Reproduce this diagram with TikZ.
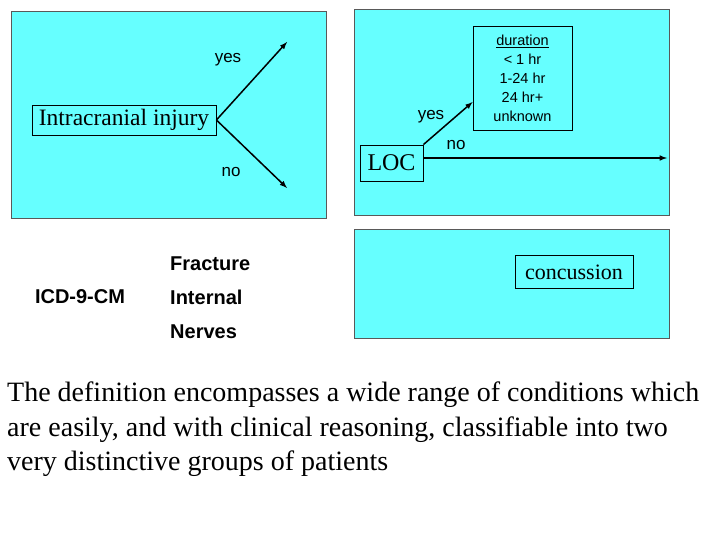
\documentclass[tikz,border=0pt]{standalone}
\usepackage{fontspec}
\setmainfont{Liberation Serif}
\newfontfamily\sff{Liberation Sans}
\begin{document}
\begin{tikzpicture}[x=1pt,y=-1pt,
 panel/.style={draw=gray!70!black,line width=0.8pt},
 lbl/.style={draw=black,line width=0.8pt,inner sep=0pt},
 arr/.style={line width=1.5pt,-latex}]
\definecolor{cy}{RGB}{102,255,255}
\useasboundingbox (0,0) rectangle (720,540);
\fill[white] (0,0) rectangle (720,540);
\path[panel,fill=cy] (11,11) rectangle (326,218);
\path[panel,fill=cy] (354,9) rectangle (669,215);
\path[panel,fill=cy] (354,229) rectangle (669,338);
\node[lbl,minimum width=184,minimum height=30,font=\fontsize{23.5}{23.5}\selectfont] (ii) at (124,120) {Intracranial injury};
\coordinate (iy) at (287,42);
\coordinate (in) at (287,188);
\draw[arr] (ii.east) -- (iy);
\draw[arr] (ii.east) -- (in);
\node[font=\sff\fontsize{17}{17}\selectfont] (yes1) at (228,60) {yes};
\node[font=\sff\fontsize{17}{17}\selectfont] (no1) at (231,172) {no};
\node[lbl,minimum width=63,minimum height=36,font=\fontsize{24}{24}\selectfont] (loc) at (391.5,163) {LOC};
\node[lbl,minimum width=99,minimum height=104,align=center,font=\sff\fontsize{14.5}{19}\selectfont] (dur) at (522.5,78) {\underline{duration}\\{<} 1 hr\\1-24 hr\\24 hr+\\unknown};
\coordinate (locend) at (667,158);
\draw[arr] (loc.north east) -- (dur.west |- 0,102);
\draw[arr] (loc.east |- 0,158) -- (locend);
\node[font=\sff\fontsize{17}{17}\selectfont] (yes2) at (431,117) {yes};
\node[font=\sff\fontsize{17}{17}\selectfont] (no2) at (456,145) {no};
\node[lbl,minimum width=118,minimum height=33,font=\fontsize{22}{22}\selectfont] (conc) at (574,272) {concussion};
\node[font=\sff\bfseries\fontsize{20}{20}\selectfont] (icd) at (80,297) {ICD-9-CM};
\node[anchor=north west,align=left,inner sep=0pt,font=\sff\bfseries\fontsize{20}{34}\selectfont] (frac) at (170,257) {Fracture\\Internal\\Nerves};
\node[anchor=north west,align=left,inner sep=0pt,font=\fontsize{28}{34.5}\selectfont] (txt) at (7,382) {The definition encompasses a wide range of conditions which\\are easily, and with clinical reasoning, classifiable into two\\very distinctive groups of patients};
\end{tikzpicture}
\end{document}
